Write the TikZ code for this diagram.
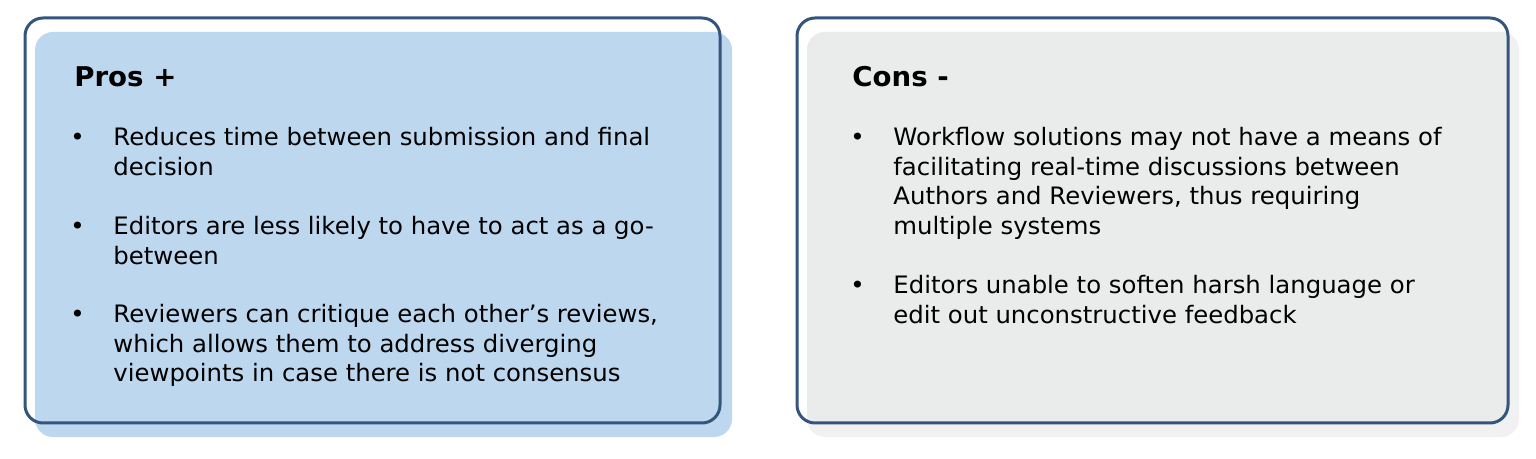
\documentclass[tikz,border=0pt]{standalone}
\usepackage{fontspec}
\setmainfont{DejaVu Sans}[FakeStretch=1.015]
\definecolor{navy}{HTML}{34557C}
\definecolor{bluefill}{HTML}{BDD7EE}
\definecolor{grayin}{HTML}{EAEBEB}
\definecolor{grayout}{HTML}{F1F1F1}
\newcommand\tl[1]{\hbox{#1}}
\tikzset{
  frame/.style={draw=navy, line width=1.5pt, rounded corners=9pt},
  backing/.style={rounded corners=9pt},
  titletext/.style={anchor=base west, inner sep=0pt, font=\fontsize{13.6}{15}\selectfont\bfseries},
  bulletmark/.style={anchor=base west, inner sep=0pt, font=\fontsize{12}{14.75}\selectfont},
  bodytext/.style={anchor=base west, inner sep=0pt, font=\fontsize{12}{14.75}\selectfont},
}
\begin{document}
\begin{tikzpicture}[x=0.5pt, y=-0.5pt]
\useasboundingbox (0,0) rectangle (1536,459);
% left box
\fill[bluefill, backing] (35,32) rectangle (732,437);
\draw[frame] (25,18) rectangle (720,423);
% right box
\fill[grayout, backing] (807,32) rectangle (1519,437);
\begin{scope}
  \clip[rounded corners=9pt] (797,18) rectangle (1508,423);
  \fill[grayin, backing] (807,32) rectangle (1519,437);
\end{scope}
\draw[frame] (797,18) rectangle (1508,423);
% left text
\node[titletext] (pros) at (74,87) {Pros +};
\node[bulletmark] (pb1) at (70,146) {•};
\node[bodytext] (pt1) at (113,146) {\vtop{\tl{Reduces time between submission and final}\tl{decision}}};
\node[bulletmark] (pb2) at (70,235) {•};
\node[bodytext] (pt2) at (113,235) {\vtop{\tl{Editors are less likely to have to act as a go-}\tl{between}}};
\node[bulletmark] (pb3) at (70,323) {•};
\node[bodytext] (pt3) at (113,323) {\vtop{\tl{Reviewers can critique each other’s reviews,}\tl{which allows them to address diverging}\tl{viewpoints in case there is not consensus}}};
% right text
\node[titletext] (cons) at (852,87) {Cons -};
\node[bulletmark] (cb1) at (850,146) {•};
\node[bodytext] (ct1) at (893,146) {\vtop{\tl{Workflow solutions may not have a means of}\tl{facilitating real-time discussions between}\tl{Authors and Reviewers, thus requiring}\tl{multiple systems}}};
\node[bulletmark] (cb2) at (850,294) {•};
\node[bodytext] (ct2) at (893,294) {\vtop{\tl{Editors unable to soften harsh language or}\tl{edit out unconstructive feedback}}};
\end{tikzpicture}
\end{document}
